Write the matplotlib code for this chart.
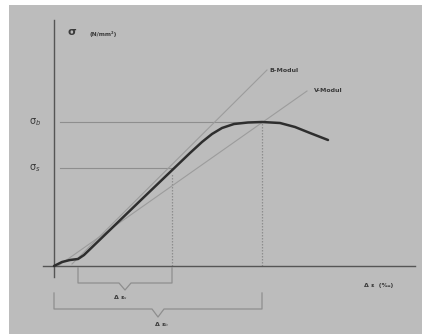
import matplotlib
matplotlib.use("Agg")
import matplotlib.pyplot as plt
from matplotlib.patches import Rectangle

# Schematic stress-strain curve (arbitrary units)
strain = [0.0, 0.8, 1.6, 2.4, 3.0, 8.8, 13.6, 14.8, 15.8, 16.8, 18.0, 19.4, 20.8, 22.6, 24.1, 25.6, 27.4]
stress = [0.0, 0.4, 0.6, 0.7, 1.1, 6.7, 11.3, 12.4, 13.2, 13.8, 14.2, 14.35, 14.4, 14.3, 13.9, 13.3, 12.6]

eps_s, sig_s = 11.8, 9.8     # yield-ish point
eps_b, sig_b = 20.8, 14.4    # peak
b_modul = ([1.8, 21.3], [0.2, 19.6])
v_modul = ([0.4, 25.3], [0.0, 17.5])

BG = "#bcbcbc"
DARK = "#2e2e2e"
AX = "#555555"
THIN = "#8e8e8e"
TXT = "#3a3a3a"

fig = plt.figure(figsize=(4.22, 3.34), dpi=100)
fig.patch.set_facecolor("white")
ax = fig.add_axes([0, 0, 1, 1])
ax.set_xlim(-5.4, 36.8)
ax.set_ylim(-6.8, 26.6)
ax.axis("off")
ax.add_patch(Rectangle((-4.5, -6.8), 42, 32.9, facecolor=BG, edgecolor="none", zorder=0))

# axes
ax.plot([0, 0], [-1.1, 24.6], color=AX, lw=1.0, zorder=2)
ax.plot([-1.1, 36.1], [0, 0], color=AX, lw=1.0, zorder=2)

# reference levels
ax.plot([0.6, eps_b], [sig_b, sig_b], color=THIN, lw=0.8, zorder=1)
ax.plot([0.6, eps_s], [sig_s, sig_s], color=THIN, lw=0.8, zorder=1)
ax.plot([eps_s, eps_s], [0, sig_s - 0.6], color=THIN, lw=0.9, ls=(0, (1.2, 1.2)), zorder=1)
ax.plot([eps_b, eps_b], [0, sig_b], color=THIN, lw=0.9, ls=(0, (1.2, 1.2)), zorder=1)

# moduli
ax.plot(*b_modul, color="#9c9c9c", lw=0.8, zorder=1)
ax.plot(*v_modul, color="#9c9c9c", lw=0.8, zorder=1)
ax.text(21.5, 19.5, "B-Modul", fontsize=4.5, color=TXT, va="center", ha="left", fontweight="bold")
ax.text(26.0, 17.6, "V-Modul", fontsize=4.5, color=TXT, va="center", ha="left", fontweight="bold")

# curve
ax.plot(strain, stress, color=DARK, lw=1.8, zorder=3, solid_capstyle="round", solid_joinstyle="round")

# labels
ax.text(1.8, 23.4, "σ", fontsize=8, color=TXT, va="center", ha="center", fontweight="bold")
ax.text(3.6, 23.2, "(N/mm²)", fontsize=4.2, color=TXT, va="center", ha="left", fontweight="bold")
ax.text(-1.9, sig_b, "σ$_b$", fontsize=7, color=TXT, va="center", ha="center")
ax.text(-1.9, sig_s, "σ$_s$", fontsize=7, color=TXT, va="center", ha="center")
ax.text(31.0, -2.0, "Δ ε  (‰)", fontsize=4.5, color=TXT, va="center", ha="left", fontweight="bold")

# brackets
def bracket(x0, x1, ytop, ybot, tip):
    xm = (x0 + x1) / 2
    ax.plot([x0, x0, xm - 0.6, xm, xm + 0.6, x1, x1],
            [ytop, ybot, ybot, ybot - tip, ybot, ybot, ytop],
            color=THIN, lw=0.9, zorder=1)

bracket(2.4, eps_s, -0.2, -1.7, 0.7)
bracket(0.0, eps_b, -2.7, -4.3, 0.8)
ax.text(6.6, -3.2, "Δ ε$_s$", fontsize=4.5, color=TXT, va="center", ha="center", fontweight="bold")
ax.text(10.8, -5.9, "Δ ε$_b$", fontsize=4.5, color=TXT, va="center", ha="center", fontweight="bold")

fig.savefig("out.png", dpi=100, facecolor="white")
